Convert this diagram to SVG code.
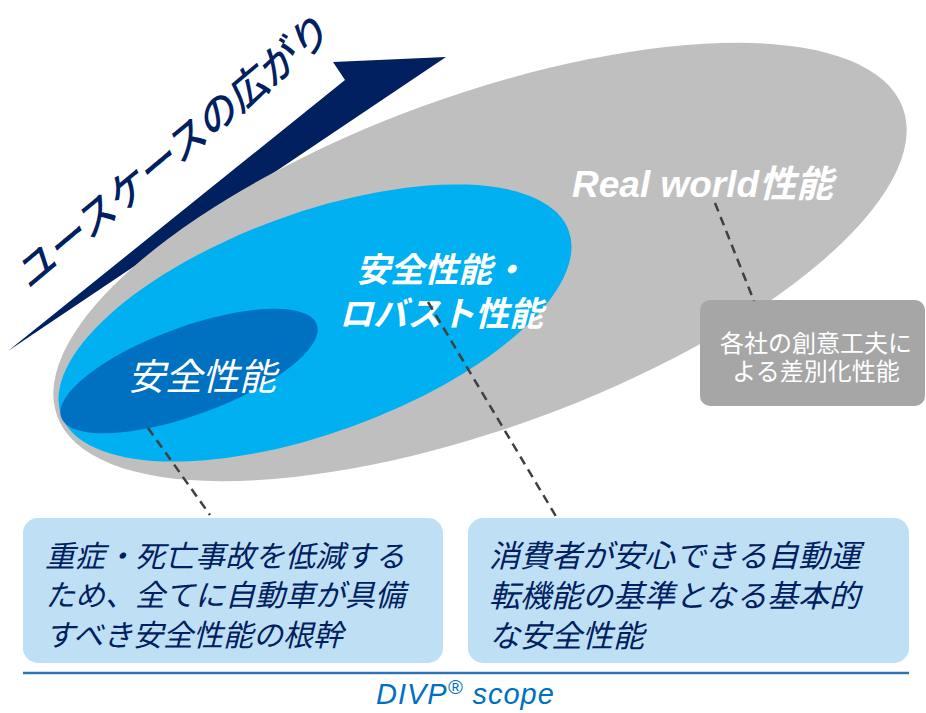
<svg xmlns="http://www.w3.org/2000/svg" width="926" height="713" viewBox="0 0 926 713">
<style>
.jp{font-family:"Noto Sans CJK JP","Noto Sans",sans-serif;}
.lat{font-family:"Liberation Sans",Arial,"Noto Sans CJK JP",sans-serif;}
.wb{fill:#ffffff;font-weight:bold;font-style:italic;}
.navy{fill:#002060;font-style:italic;}
.dash{stroke:#404040;stroke-width:2.5;stroke-dasharray:9 6;fill:none;}
.card{fill:#bfdff4;}
</style>
<rect width="926" height="713" fill="#ffffff"/>
<g id="arrow">
  <polygon points="8,351 345,80 333,62 446,57" fill="#002060"/>
  <text class="jp navy" x="29" y="291" font-size="40" font-weight="500" transform="rotate(-40 29 291)">ユースケースの広がり</text>
</g>
<g id="realworld">
  <ellipse cx="480" cy="262" rx="450" ry="166" transform="rotate(-20 480 262)" fill="#bfbfbf"/>
  <text class="lat wb" x="572" y="197" font-size="37">Real world<tspan class="jp">性能</tspan></text>
</g>
<g id="robust">
  <ellipse cx="315" cy="323" rx="270" ry="110" transform="rotate(-20 315 323)" fill="#00b0f0"/>
  <text class="jp wb" font-size="34" text-anchor="middle"><tspan x="441" y="282">安全性能・</tspan><tspan x="441" y="326">ロバスト性能</tspan></text>
</g>
<g id="safety">
  <ellipse cx="189" cy="371" rx="136" ry="44" transform="rotate(-20 189 371)" fill="#0070c0"/>
  <text class="jp" x="128" y="390" font-size="37" fill="#ffffff" font-style="italic">安全性能</text>
</g>
<g id="diff-box">
  <rect x="700" y="300" width="225" height="106" rx="10" fill="#a6a6a6"/>
  <text class="jp" font-size="24" fill="#ffffff" text-anchor="middle"><tspan x="816" y="352">各社の創意工夫に</tspan><tspan x="816" y="380">よる差別化性能</tspan></text>
</g>
<g id="box-left">
  <rect class="card" x="23" y="518" width="420" height="145" rx="15"/>
  <text class="jp navy" font-size="30"><tspan x="45" y="567">重症・死亡事故を低減する</tspan><tspan x="45" y="606">ため、全てに自動車が具備</tspan><tspan x="45" y="646">すべき安全性能の根幹</tspan></text>
</g>
<g id="box-right">
  <rect class="card" x="468" y="518" width="441" height="145" rx="15"/>
  <text class="jp navy" font-size="31"><tspan x="489" y="567">消費者が安心できる自動運</tspan><tspan x="489" y="607">転機能の基準となる基本的</tspan><tspan x="489" y="647">な安全性能</tspan></text>
</g>
<g id="scope">
  <line x1="23" y1="673" x2="909" y2="673" stroke="#2e75b6" stroke-width="2.5"/>
  <text class="lat" x="376" y="704" font-size="29" fill="#0070c0" font-style="italic" letter-spacing="1">DIVP<tspan font-size="20" dy="-10">®</tspan><tspan dy="10"> scope</tspan></text>
</g>
<g id="connectors">
  <line class="dash" x1="715" y1="203" x2="754" y2="301"/>
  <line class="dash" x1="428" y1="302" x2="557" y2="518"/>
  <line class="dash" x1="148" y1="428" x2="210" y2="515"/>
</g>
</svg>
